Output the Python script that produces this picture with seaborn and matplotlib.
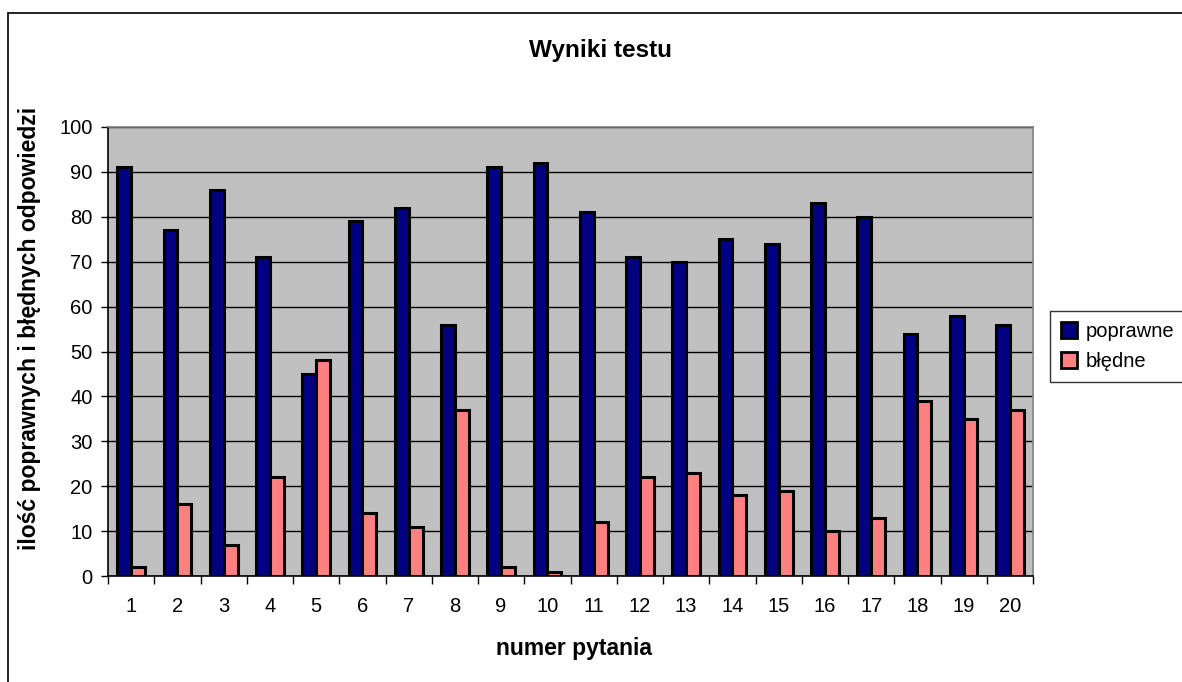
import matplotlib
matplotlib.use("Agg")
import matplotlib.pyplot as plt
import seaborn as sns
import pandas as pd
import numpy as np
from matplotlib.lines import Line2D
from matplotlib.ticker import FixedLocator

questions = [str(i) for i in range(1, 21)]
poprawne = [91, 77, 86, 71, 45, 79, 82, 56, 91, 92, 81, 71, 70, 75, 74, 83, 80, 54, 58, 56]
bledne = [2, 16, 7, 22, 48, 14, 11, 37, 2, 1, 12, 22, 23, 18, 19, 10, 13, 39, 35, 37]
series_names = ["poprawne", "błędne"]
colors = ["#000080", "#FF8080"]
yticks = list(range(0, 101, 10))

df = pd.DataFrame({
    "numer": questions * 2,
    "wartosc": poprawne + bledne,
    "seria": [series_names[0]] * len(questions) + [series_names[1]] * len(questions),
})

sns.set_theme(style="white")
plt.rcParams["font.family"] = ["Liberation Sans", "DejaVu Sans"]
plt.rcParams["text.color"] = "black"
plt.rcParams["xtick.color"] = "black"
plt.rcParams["ytick.color"] = "black"
plt.rcParams["axes.labelcolor"] = "black"

W, H = 1182, 682
fig = plt.figure(figsize=(W / 100, H / 100), dpi=100)
ax = fig.add_axes([108 / W, 1 - 576 / H, (1033 - 108) / W, (576 - 127) / H])
ax.set_facecolor("#C0C0C0")

sns.barplot(data=df, x="numer", y="wartosc", hue="seria", palette=colors,
            saturation=1, edgecolor="black", linewidth=2.2, width=0.6, gap=0,
            legend=False, ax=ax, zorder=3)

ax.set_ylim(0, 100)
ax.set_xlim(-0.5, len(questions) - 0.5)
ax.set_yticks(yticks)
ax.yaxis.grid(True, color="black", linewidth=1, zorder=0)
ax.set_axisbelow(True)
for s in ax.spines.values():
    s.set_color("#808080")
    s.set_linewidth(1.2)
ax.spines["left"].set_color("black")
ax.spines["bottom"].set_color("black")

ax.tick_params(axis="y", which="major", direction="out", length=5, width=1,
               color="black", labelcolor="black", pad=6, labelsize=14.5, left=True)
# x: labels at centers (minor), ticks at boundaries (major)
ax.xaxis.set_major_locator(FixedLocator(np.arange(-0.5, len(questions), 1.0)))
ax.xaxis.set_minor_locator(FixedLocator(np.arange(0, len(questions), 1.0)))
ax.set_xticklabels([""] * (len(questions) + 1))
ax.set_xticklabels(questions, minor=True)
ax.tick_params(axis="x", which="major", direction="out", length=6, width=1,
               color="black", bottom=True)
ax.tick_params(axis="x", which="minor", length=0, pad=15, labelsize=14.5,
               labelcolor="black", bottom=True)
ax.set_xlabel("")
ax.set_ylabel("")

handles = [plt.Rectangle((0, 0), 1, 1, facecolor=c, edgecolor="black", linewidth=2)
           for c in colors]
leg = fig.legend(handles, series_names, loc="upper left",
                 bbox_to_anchor=(1050 / W, 1 - 311 / H), fontsize=14.5,
                 frameon=True, fancybox=False, handlelength=0.8, handleheight=0.8,
                 handletextpad=0.4, borderpad=0.55, labelspacing=0.55, borderaxespad=0)
leg.get_frame().set_edgecolor("black")
leg.get_frame().set_linewidth(1)
for t in leg.get_texts():
    t.set_color("black")

fig.text(601 / W, 1 - 57 / H, "Wyniki testu", ha="center", va="baseline",
         fontsize=17.5, fontweight="bold", color="black")
fig.text(574 / W, 1 - 655 / H, "numer pytania", ha="center", va="baseline",
         fontsize=16.5, fontweight="bold", color="black")
fig.text(30 / W, 1 - 328 / H, "ilość poprawnych i błędnych odpowiedzi", ha="center",
         va="center", rotation=90, fontsize=16.5, fontweight="bold", color="black")

# outer chart border (left and top visible)
fig.add_artist(Line2D([8 / W, 8 / W], [0, 1 - 13 / H], transform=fig.transFigure,
                      color="black", linewidth=1.2))
fig.add_artist(Line2D([8 / W, 1], [1 - 13 / H, 1 - 13 / H], transform=fig.transFigure,
                      color="black", linewidth=1.2))

fig.savefig("out.png", dpi=100)
